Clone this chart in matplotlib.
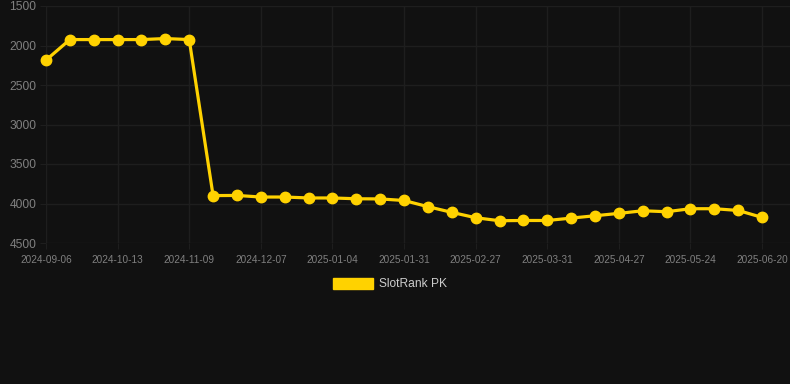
import matplotlib.pyplot as plt
from matplotlib.patches import Patch

# dates shown on the x axis (categorical, one point per snapshot)
dates = [
    "2024-09-06", "2024-09-18", "2024-10-01", "2024-10-13", "2024-10-22", "2024-10-31",
    "2024-11-09", "2024-11-18", "2024-11-27", "2024-12-07", "2024-12-16", "2024-12-25",
    "2025-01-04", "2025-01-13", "2025-01-22", "2025-01-31", "2025-02-09", "2025-02-18",
    "2025-02-27", "2025-03-10", "2025-03-20", "2025-03-31", "2025-04-09", "2025-04-18",
    "2025-04-27", "2025-05-06", "2025-05-15", "2025-05-24", "2025-06-02", "2025-06-11",
    "2025-06-20",
]
rank = [
    2185, 1925, 1925, 1925, 1925, 1912, 1925, 3900, 3898, 3918, 3918, 3930,
    3930, 3940, 3942, 3962, 4040, 4112, 4180, 4218, 4215, 4215, 4185, 4155,
    4125, 4092, 4104, 4066, 4066, 4088, 4176,
]
series_name = "SlotRank PK"
yticks = [1500, 2000, 2500, 3000, 3500, 4000, 4500]

plt.rcParams["font.family"] = ["Liberation Sans", "DejaVu Sans"]

bg = "#111111"
gold = "#FFD200"
grid = "#1e1e1e"

fig = plt.figure(figsize=(7.9, 3.84), dpi=100, facecolor=bg)
ax = fig.add_axes([46 / 790, 1 - 243 / 384, 744 / 790, 237 / 384])
ax.set_facecolor(bg)

x = list(range(len(rank)))
ax.plot(x, rank, color=gold, linewidth=2.3, marker="o", markersize=7.5,
        markerfacecolor=gold, markeredgecolor=gold, zorder=3, clip_on=False)

ax.set_ylim(4500, 1500)
ax.set_yticks(yticks)
ax.set_yticklabels([str(v) for v in yticks])
ax.set_xlim(0, 31.17)
ax.set_xticks(x[::3])
ax.set_xticklabels(dates[::3])

ax.grid(True, color=grid, linewidth=1)
ax.set_axisbelow(True)
for s in ax.spines.values():
    s.set_visible(False)
ax.tick_params(axis="y", colors=grid, labelcolor="#808080", labelsize=8.64,
               length=4, pad=3)
ax.tick_params(axis="x", colors=grid, labelcolor="#808080", labelsize=7.2,
               length=4, pad=4.5)

handles = [Patch(facecolor=gold, edgecolor=gold, label=series_name)]
fig.legend(handles=handles, loc="center", bbox_to_anchor=(390 / 790, 1 - 284 / 384),
           frameon=False, fontsize=8.64, labelcolor="#cccccc",
           handlelength=3.4, handleheight=1.0, handletextpad=0.5)

fig.savefig("out.png", dpi=100, facecolor=bg)
